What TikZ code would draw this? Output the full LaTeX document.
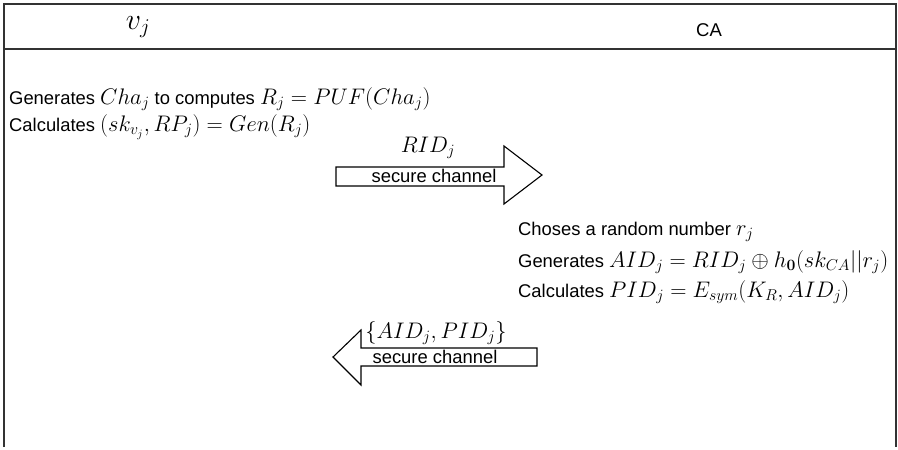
\RequirePackage{fix-cm}
\documentclass[tikz,border=0pt]{standalone}
\usepackage{amsmath, amssymb}
\usepackage[no-math]{fontspec}
\setmainfont{Liberation Sans}
\usepackage{tikz}
\DeclareMathSizes{18.4}{22.5}{15.75}{11.25}

\tikzset{
	frameline/.style={line width=2, black!80},
	chanarrow/.style={line width=1.1, black, fill=white},
	msg/.style={anchor=west, inner sep=0},
}

\begin{document}
\begin{tikzpicture}[x=1pt, y=-1pt, font=\fontsize{18.4}{21}\selectfont]

\useasboundingbox (0,0) rectangle (898,450);

\draw[frameline] (4,447)--(4,4)--(896,4)--(896,447);
\draw[frameline] (4,49)--(896,49);

\node (vj) at (138,27) {\fontsize{30}{32}\selectfont $v_j$};
\node (ca) at (709,30) {\fontsize{18.5}{20}\selectfont CA};

% vehicle side
\node[msg] (genCha) at (9,99) {Generates $Cha_j$ to computes $R_j=PUF(Cha_j)$};
\node[msg] (calcRP) at (9,127) {Calculates $(sk_{v_j},RP_j)=Gen(R_j)$};

% right arrow
\draw[chanarrow] (336,167)--(504,167)--(504,146)--(542,175)--(504,204)--(504,186)--(336,186)--cycle;
\node (rid) at (428,148) {$RID_j$};
\node (sc1) at (434,176) {secure channel};

% CA side
\node[msg] (rand) at (518,232) {Choses a random number $r_j$};
\node[msg] (aid) at (518,262) {Generates $AID_j=RID_j\oplus h_{\mathbf{0}}(sk_{CA}||r_j)$};
\node[msg] (pid) at (518,292) {Calculates $PID_j=E_{sym}(K_R,AID_j)$};

% left arrow
\draw[chanarrow] (537,348)--(361,348)--(361,330)--(333,357)--(361,385)--(361,366)--(537,366)--cycle;
\node (aidpid) at (436,333) {$\{AID_j,PID_j\}$};
\node (sc2) at (435,357) {secure channel};

\end{tikzpicture}
\end{document}
